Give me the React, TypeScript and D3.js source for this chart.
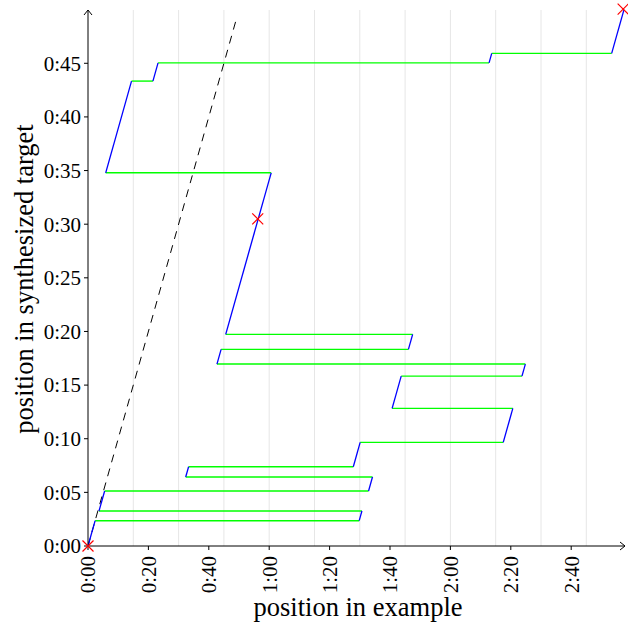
import React from "react";
import * as d3 from "d3";

// example position (s) where each played segment starts
const segExampleStart = [0, 89.8, 3.64, 92.9, 32.35, 87.85, 137.5, 100.7, 143.7, 42.7, 106.1, 45.6, 5.86, 21.5, 132.8, 173.4];
// target position (s) where each played segment starts
const segTargetStart = [0, 2.36, 3.26, 5.13, 6.43, 7.39, 9.66, 12.83, 15.84, 16.96, 18.33, 19.73, 34.79, 43.34, 45.04, 45.92];
const targetEnd = 50.0;
// marked points [example, target]
const markersX = [0, 56.2, 177.2];
const markersY = [0, 30.5, 50.05];
const identityEnd = 49.3;
const xTicks = [0, 20, 40, 60, 80, 100, 120, 140, 160];
const yTicks = [0, 5, 10, 15, 20, 25, 30, 35, 40, 45];
const gridLines = [15, 30, 45, 60, 75, 90, 105, 120, 135, 150, 165];

const fmt = (s: number) => `${Math.floor(s / 60)}:${String(Math.round(s % 60)).padStart(2, "0")}`;

export default function App() {
  const W = 628, H = 626;
  const x = d3.scaleLinear().domain([0, 178]).range([88, 88 + 178 * 3.02]);
  const y = d3.scaleLinear().domain([0, 50]).range([546, 9.65]);
  const font = "'Liberation Serif', 'Times New Roman', serif";

  const blue: string[] = [];
  const green: string[] = [];
  const line = d3.line<[number, number]>().x((d) => x(d[0])).y((d) => y(d[1]));
  for (let i = 0; i < segExampleStart.length; i++) {
    const t0 = segTargetStart[i];
    const t1 = i + 1 < segTargetStart.length ? segTargetStart[i + 1] : targetEnd;
    const e0 = segExampleStart[i];
    const e1 = e0 + (t1 - t0);
    blue.push(line([[e0, t0], [e1, t1]]) as string);
    if (i + 1 < segExampleStart.length) {
      green.push(line([[e1, t1], [segExampleStart[i + 1], t1]]) as string);
    }
  }
  const x0 = x(0), y0 = y(0);
  const xEnd = 625, yTop = 10;

  return (
    <svg width={W} height={H} style={{ position: "absolute", left: 0, top: 0 }} fontFamily={font}>
      <rect width={W} height={H} fill="white" />
      {gridLines.map((g) => (
        <line key={g} x1={x(g)} x2={x(g)} y1={y0} y2={yTop} stroke="#e6e6e6" strokeWidth={1} />
      ))}
      <line x1={x(0)} y1={y(0)} x2={x(identityEnd)} y2={y(identityEnd)} stroke="black" strokeWidth={1} strokeDasharray="8,6.5" />
      {green.map((d, i) => (
        <path key={"g" + i} d={d} stroke="#00ff00" strokeWidth={1.4} fill="none" />
      ))}
      {blue.map((d, i) => (
        <path key={"b" + i} d={d} stroke="#0000ff" strokeWidth={1.3} fill="none" />
      ))}
      {/* axes */}
      <line x1={x0} y1={y0} x2={xEnd} y2={y0} stroke="black" strokeWidth={1} />
      <line x1={x0} y1={y0} x2={x0} y2={yTop} stroke="black" strokeWidth={1} />
      <path d={`M${xEnd - 5},${y0 - 4}L${xEnd},${y0}L${xEnd - 5},${y0 + 4}`} stroke="black" fill="none" strokeWidth={1} />
      <path d={`M${x0 - 4},${yTop + 5}L${x0},${yTop}L${x0 + 4},${yTop + 5}`} stroke="black" fill="none" strokeWidth={1} />
      {xTicks.map((t) => (
        <g key={t}>
          <line x1={x(t)} x2={x(t)} y1={y0} y2={y0 + 4} stroke="black" />
          <text transform={`translate(${x(t)},${y0 + 10}) rotate(-90)`} textAnchor="end" dy="0.35em" fontSize={21}>
            {fmt(t)}
          </text>
        </g>
      ))}
      {yTicks.map((t) => (
        <g key={t}>
          <line x1={x0 - 4} x2={x0} y1={y(t)} y2={y(t)} stroke="black" />
          <text x={x0 - 7} y={y(t)} textAnchor="end" dy="0.35em" fontSize={21}>
            {fmt(t)}
          </text>
        </g>
      ))}
      <text x={358} y={616} textAnchor="middle" fontSize={26.5}>position in example</text>
      <text transform={`translate(33,279) rotate(-90)`} textAnchor="middle" fontSize={26.5}>position in synthesized target</text>
      {markersX.map((mx, i) => {
        const cx = x(mx), cy = y(markersY[i]), r = 5.5;
        return (
          <path key={"m" + i} d={`M${cx - r},${cy - r}L${cx + r},${cy + r}M${cx - r},${cy + r}L${cx + r},${cy - r}`} stroke="#ff0000" strokeWidth={1.2} fill="none" />
        );
      })}
    </svg>
  );
}
